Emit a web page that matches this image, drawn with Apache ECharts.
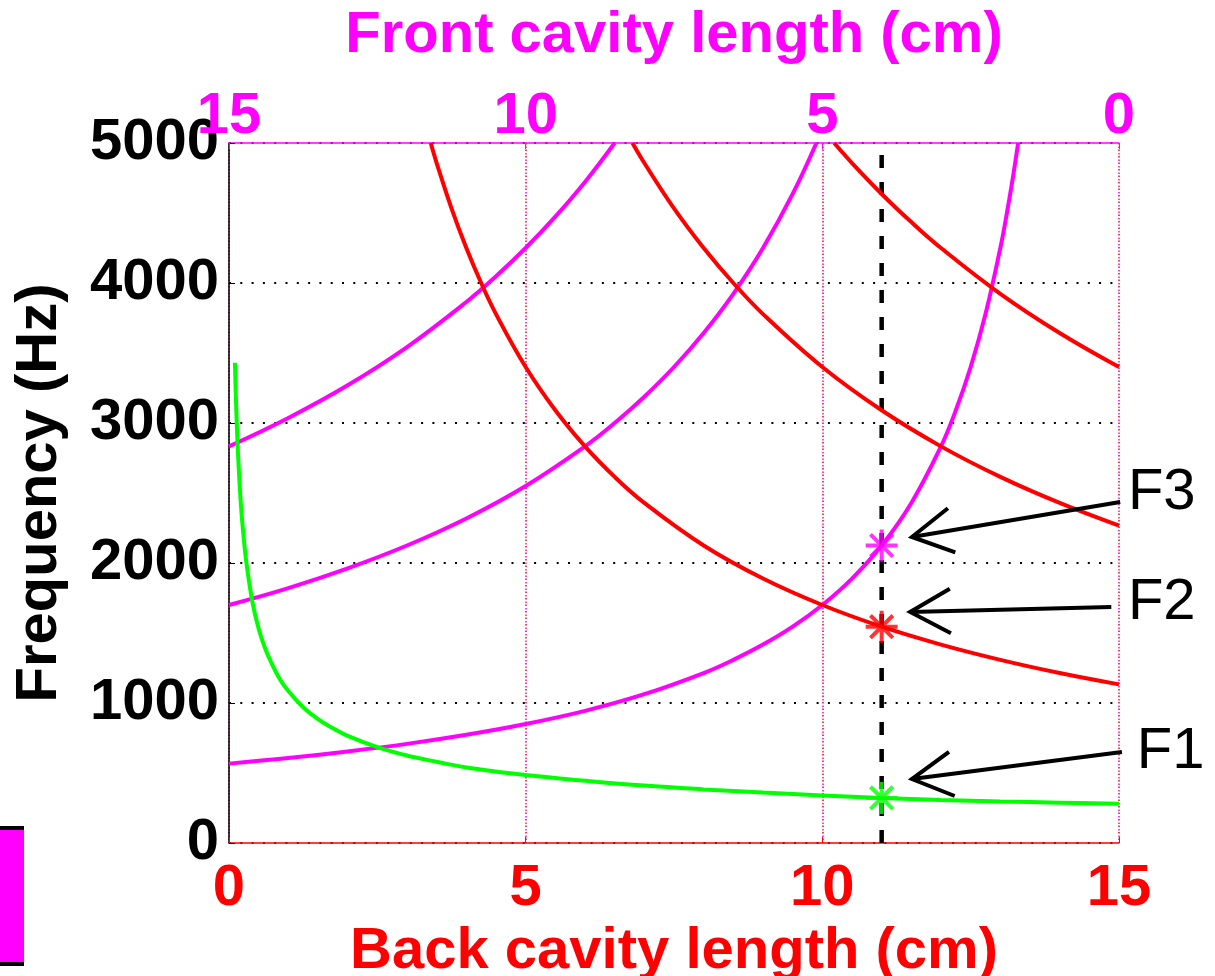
<!DOCTYPE html>
<html>
<head>
<meta charset="utf-8">
<script src="https://cdn.jsdelivr.net/npm/echarts@6/dist/echarts.min.js"></script>
<style>
html,body{margin:0;padding:0;background:#fff;}
#chart{width:1215px;height:976px;}
</style>
</head>
<body>
<div id="chart"></div>
<script>
// ---- data (back cavity length in cm, frequency in Hz) ----
const xTicks = [0, 5, 10, 15];
const yTicks = [0, 1000, 2000, 3000, 4000, 5000];

// F1 (Helmholtz, green)
const lenGreen = [0.1, 0.12, 0.15, 0.2, 0.25, 0.3, 0.4, 0.5, 0.6, 0.7, 0.85, 1, 1.25, 1.5, 1.75, 2, 2.5, 3, 3.5, 4, 5, 6, 7, 8, 9, 10, 11, 12, 13, 14, 15];
const hzGreen  = [3430, 3130, 2800, 2420, 2170, 1980, 1710, 1530, 1400, 1300, 1175, 1085, 970, 885, 820, 765, 685, 625, 580, 540, 485, 445, 410, 383, 360, 340, 322, 308, 297, 288, 280];

// front cavity resonances (magenta)
const lenFront1 = [0, 1, 2, 3, 4, 5, 6, 7, 8, 8.5, 9, 9.5, 10, 10.5, 11, 11.5, 12, 12.25, 12.5, 12.75, 13, 13.1, 13.2, 13.3];
const hzFront1  = [567, 607, 654, 708, 773, 850, 944, 1063, 1214, 1308, 1417, 1545, 1700, 1889, 2125, 2429, 2833, 3091, 3400, 3778, 4250, 4474, 4722, 5000];
const lenFront2 = [0, 1, 2, 3, 4, 5, 6, 6.5, 7, 7.5, 8, 8.5, 9, 9.5, 9.9];
const hzFront2  = [1700, 1821, 1962, 2125, 2318, 2550, 2833, 3000, 3188, 3400, 3643, 3923, 4250, 4636, 5000];
const lenFront3 = [0, 1, 2, 3, 4, 4.5, 5, 5.5, 6, 6.5];
const hzFront3  = [2833, 3036, 3269, 3542, 3864, 4048, 4250, 4474, 4722, 5000];

// back cavity resonances (red)
const lenBack1 = [3.4, 3.5, 3.75, 4, 4.25, 4.5, 5, 5.5, 6, 6.5, 7, 8, 9, 10, 11, 12, 13, 14, 15];
const hzBack1  = [5000, 4857, 4533, 4250, 4000, 3778, 3400, 3091, 2833, 2615, 2429, 2125, 1889, 1700, 1545, 1417, 1308, 1214, 1133];
const lenBack2 = [6.8, 7, 7.5, 8, 8.5, 9, 10, 11, 12, 13, 14, 15];
const hzBack2  = [5000, 4857, 4533, 4250, 4000, 3778, 3400, 3091, 2833, 2615, 2429, 2267];
const lenBack3 = [10.2, 10.5, 11, 11.5, 12, 13, 14, 15];
const hzBack3  = [5000, 4857, 4636, 4435, 4250, 3923, 3643, 3400];

// selected configuration
const markerLen = 11;
const markerNames = ['F1', 'F2', 'F3'];
const markerHz = [322, 1545, 2125];
const markerColors = ['#00ff00', '#ff0000', '#ff00ff'];

// annotation arrows (data coords): tail -> tip, and label anchors
const arrowTailLen = [15.05, 14.87, 15.02];
const arrowTailHz  = [650, 1686, 2436];
const arrowTipLen  = [11.51, 11.48, 11.51];
const arrowTipHz   = [457, 1650, 2186];
const labelLen = [15.30, 15.15, 15.15];
const labelHz  = [650, 1714, 2500];

const zip = (a, b) => a.map((v, i) => [v, b[i]]);
const FONT = 'Liberation Sans, Arial, Helvetica, sans-serif';

const chart = echarts.init(document.getElementById('chart'), null, {renderer: 'canvas'});

function curve(name, xs, ys, color) {
  return {
    name, type: 'line', xAxisIndex: 0, yAxisIndex: 0,
    data: zip(xs, ys), showSymbol: false, smooth: 0.4,
    lineStyle: {color, width: 4}, itemStyle: {color}, silent: true, z: 3
  };
}

const starPath = 'path://M10,0L10,20M0,10L20,10M3,3L17,17M3,17L17,3';

const option = {
  animation: false,
  backgroundColor: '#ffffff',
  grid: {left: 229, top: 143, width: 890, height: 700, containLabel: false, outerBoundsMode: 'none'},
  xAxis: [
    {
      type: 'value', min: 0, max: 15, interval: 5, position: 'bottom',
      name: 'Back cavity length (cm)', nameLocation: 'middle', nameGap: 73,
      nameTextStyle: {color: '#ff0000', fontFamily: FONT, fontWeight: 'bold', fontSize: 58},
      axisLine: {show: true, onZero: false, lineStyle: {color: '#ff0000', width: 1.5}},
      axisTick: {show: true, inside: true, length: 6, lineStyle: {color: '#ff0000', width: 1}},
      axisLabel: {color: '#ff0000', fontFamily: FONT, fontWeight: 'bold', fontSize: 58, margin: 17,
        formatter: v => xTicks.includes(v) ? String(v) : ''},
      splitLine: {show: true, lineStyle: {color: '#ff0000', width: 1.5, type: [1.5, 5]}}
    },
    {
      type: 'value', min: 0, max: 15, interval: 5, position: 'top', inverse: true,
      name: 'Front cavity length (cm)', nameLocation: 'middle', nameGap: 78,
      nameTextStyle: {color: '#ff00ff', fontFamily: FONT, fontWeight: 'bold', fontSize: 58},
      axisLine: {show: true, onZero: false, lineStyle: {color: '#ff00ff', width: 1.5}},
      axisTick: {show: true, inside: true, length: 6, lineStyle: {color: '#ff00ff', width: 1}},
      axisLabel: {color: '#ff00ff', fontFamily: FONT, fontWeight: 'bold', fontSize: 58, margin: -3},
      splitLine: {show: true, lineStyle: {color: '#ff00ff', width: 1.5, type: [1.5, 5], dashOffset: 3}}
    }
  ],
  yAxis: [{
    type: 'value', min: 0, max: 5000, interval: 1000,
    name: 'Frequency (Hz)', nameLocation: 'middle', nameGap: 160,
    nameTextStyle: {color: '#000', fontFamily: FONT, fontWeight: 'bold', fontSize: 58},
    axisLine: {show: true, lineStyle: {color: '#000', width: 1.5}},
    axisTick: {show: true, inside: true, length: 6, lineStyle: {color: '#000', width: 1}},
    axisLabel: {color: '#000', fontFamily: FONT, fontWeight: 'bold', fontSize: 58, margin: 10,
      formatter: v => yTicks.includes(v) ? String(v) : ''},
    splitLine: {show: true, lineStyle: {color: '#000', width: 2, type: [2, 9.3]}}
  }],
  series: [
    {
      name: 'selected', type: 'line', data: [[markerLen, 0], [markerLen, 5000]],
      showSymbol: false, silent: true, z: 2,
      lineStyle: {color: '#000', width: 4.5, type: [13, 14]}
    },
    curve('front1', lenFront1, hzFront1, '#ff00ff'),
    curve('front2', lenFront2, hzFront2, '#ff00ff'),
    curve('front3', lenFront3, hzFront3, '#ff00ff'),
    curve('back1', lenBack1, hzBack1, '#ff0000'),
    curve('back2', lenBack2, hzBack2, '#ff0000'),
    curve('back3', lenBack3, hzBack3, '#ff0000'),
    curve('helmholtz', lenGreen, hzGreen, '#00ff00'),
    {
      name: 'formants', type: 'scatter', z: 5, silent: true,
      symbol: starPath, symbolSize: 32,
      data: markerHz.map((h, i) => ({
        name: markerNames[i], value: [markerLen, h],
        itemStyle: {color: 'rgba(0,0,0,0)', borderColor: markerColors[i], borderWidth: 4}
      }))
    }
  ]
};

chart.setOption(option);

// annotations: arrows + labels, positioned through the chart's own scales
function buildGraphics() {
  const els = [];
  // cut-off legend swatch at lower left
  els.push({type: 'rect', shape: {x: 0, y: 827, width: 24, height: 138}, style: {fill: '#ff00ff'}, silent: true});
  els.push({type: 'rect', shape: {x: 0, y: 826, width: 24, height: 4}, style: {fill: '#000'}, silent: true});
  els.push({type: 'rect', shape: {x: 0, y: 962, width: 24, height: 4}, style: {fill: '#000'}, silent: true});
  for (let i = 0; i < 3; i++) {
    const tail = chart.convertToPixel({xAxisIndex: 0, yAxisIndex: 0}, [arrowTailLen[i], arrowTailHz[i]]);
    const tip = chart.convertToPixel({xAxisIndex: 0, yAxisIndex: 0}, [arrowTipLen[i], arrowTipHz[i]]);
    const ang = Math.atan2(tail[1] - tip[1], tail[0] - tip[0]);
    const hl = 46, ha = 29 * Math.PI / 180;
    const a1 = [tip[0] + hl * Math.cos(ang - ha), tip[1] + hl * Math.sin(ang - ha)];
    const a2 = [tip[0] + hl * Math.cos(ang + ha), tip[1] + hl * Math.sin(ang + ha)];
    const ls = {stroke: '#000', lineWidth: 4, lineCap: 'butt', lineJoin: 'miter'};
    els.push({type: 'line', shape: {x1: tail[0], y1: tail[1], x2: tip[0], y2: tip[1]}, style: ls, silent: true, z: 10});
    els.push({type: 'polyline', shape: {points: [a1, tip, a2]}, style: Object.assign({fill: null}, ls), silent: true, z: 10});
    const lp = chart.convertToPixel({xAxisIndex: 0, yAxisIndex: 0}, [labelLen[i], labelHz[i]]);
    els.push({type: 'text', x: lp[0], y: lp[1], silent: true, z: 10,
      style: {text: markerNames[i], fill: '#000', font: '58px ' + FONT, align: 'left', verticalAlign: 'middle'}});
  }
  chart.setOption({graphic: els});
}
buildGraphics();
</script>
</body>
</html>
